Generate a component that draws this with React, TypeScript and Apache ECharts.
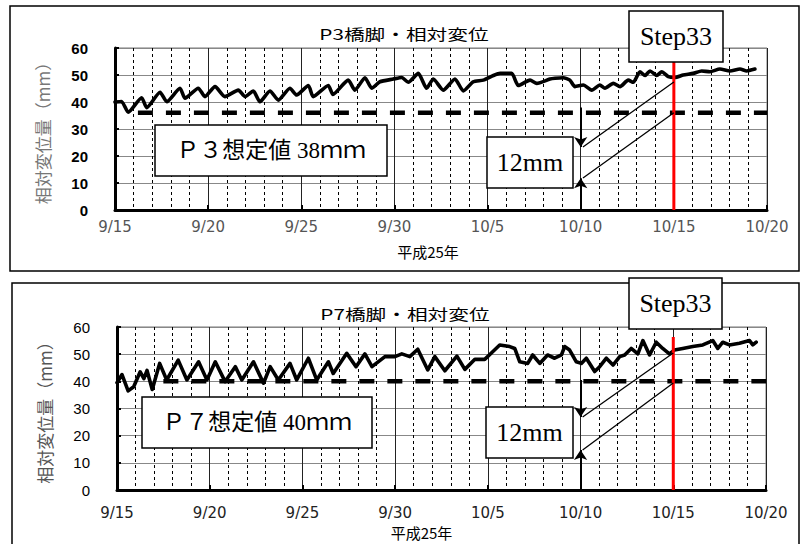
import React, { useEffect, useRef } from 'react';
import * as echarts from 'echarts';

// ---- data ----
const xTickLabels = ['9/15', '9/20', '9/25', '9/30', '10/5', '10/10', '10/15', '10/20'];

// days after 9/15 and relative displacement (mm)
const p3Days = [0.0, 0.35, 0.71, 1.43, 1.70, 2.42, 2.78, 3.49, 3.76, 4.47, 4.83, 5.37, 5.90, 6.62, 6.98, 7.42, 7.78, 8.32, 8.77, 9.39, 9.75, 10.38, 10.64, 11.45, 11.70, 12.52, 12.88, 13.42, 13.78, 14.22, 14.94, 15.39, 15.74, 16.28, 16.73, 17.09, 17.62, 18.25, 18.70, 19.23, 19.77, 20.31, 20.67, 21.29, 21.65, 22.28, 22.64, 23.35, 23.62, 24.06, 24.42, 24.69, 25.14, 25.59, 26.03, 26.30, 26.75, 27.11, 27.55, 27.82, 28.18, 28.45, 28.72, 29.08, 29.35, 29.70, 30.06, 30.50, 31.04, 31.49, 31.94, 32.47, 33.01, 33.55, 33.91, 34.35];
const p3Values = [40.0, 40.2, 36.2, 41.6, 37.9, 43.6, 40.1, 45.1, 41.4, 45.1, 42.0, 45.7, 42.0, 44.4, 42.0, 44.1, 40.1, 44.1, 40.7, 45.1, 42.6, 46.1, 42.0, 46.1, 42.8, 48.1, 44.4, 49.0, 45.1, 47.5, 48.5, 49.1, 47.3, 50.6, 45.1, 48.5, 44.4, 48.5, 44.1, 47.5, 48.1, 49.8, 50.6, 50.6, 46.1, 48.1, 46.9, 48.5, 48.8, 49.0, 48.1, 45.7, 46.3, 44.4, 46.3, 45.1, 46.9, 45.7, 48.1, 47.3, 51.2, 49.8, 51.5, 49.8, 51.2, 49.4, 49.1, 50.0, 50.6, 51.5, 51.2, 52.2, 51.5, 52.2, 51.5, 52.2];

const p7Days = [0.0, 0.27, 0.6, 0.9, 1.25, 1.45, 1.62, 1.9, 2.3, 2.68, 3.3, 3.77, 4.4, 4.85, 5.3, 5.83, 6.38, 6.73, 7.36, 7.9, 8.26, 8.7, 9.33, 9.69, 10.32, 10.77, 11.4, 11.66, 12.39, 12.89, 13.37, 13.75, 14.45, 14.99, 15.36, 15.79, 16.22, 16.76, 17.14, 17.68, 18.33, 18.76, 19.30, 19.83, 20.26, 20.64, 21.18, 21.45, 21.72, 22.15, 22.42, 22.80, 23.22, 23.60, 23.97, 24.14, 24.41, 24.77, 25.04, 25.31, 25.76, 26.03, 26.39, 26.75, 27.11, 27.38, 27.73, 28.09, 28.36, 28.72, 29.08, 29.43, 29.79, 30.06, 30.51, 31.05, 31.59, 32.13, 32.40, 32.67, 33.03, 33.57, 34.11, 34.29, 34.47];
const p7Values = [39.5, 42.5, 36.5, 38.0, 43.5, 41.0, 44.0, 37.0, 46.6, 40.5, 47.8, 40.5, 47.2, 40.5, 47.2, 39.9, 45.4, 40.5, 47.2, 39.3, 45.4, 40.5, 46.6, 40.5, 48.5, 40.5, 47.2, 42.9, 50.3, 45.4, 50.1, 45.4, 49.1, 49.1, 50.1, 49.1, 51.8, 44.2, 49.1, 43.9, 49.3, 44.4, 48.1, 48.1, 50.9, 53.4, 52.8, 52.1, 47.2, 46.6, 49.7, 46.6, 49.7, 48.5, 49.7, 52.8, 51.5, 47.2, 46.6, 48.5, 43.6, 45.4, 48.5, 46.0, 49.1, 49.7, 52.1, 50.1, 55.0, 49.7, 54.4, 52.1, 50.1, 51.5, 52.1, 52.8, 53.4, 55.0, 52.1, 54.4, 53.4, 54.0, 55.0, 53.4, 54.4];

// reference (design) level lines: [startDay, endDay, value]
const p3Design = [1.23, 35, 36];
const p7Design = [2.5, 35, 40];
const stepDay = 30; // 10/15 = Step33
const p3StepTop = 60;
const p7StepTop = 56.3;

// annotation geometry in data units: [x1, y1, x2, y2]
const p3Arrows = [[25, 38, 25, 23.3], [25, 0, 25, 11.8]];
const p3Diag = [[30, 47.4, 25.12, 23.3], [30, 36, 25.12, 11.85]];
const p7Arrows = [[25, 40.5, 25, 26.9], [25, 0, 25, 14.7]];
const p7Diag = [[30, 50.4, 25.11, 26.9], [30, 39.4, 25.11, 14.7]];

const yAxisName = '相対変位量（mm）';
const xAxisName = '平成25年';

function zip(a: number[], b: number[]) {
  return a.map((v, i) => [v, b[i]]);
}

function xAxisCfg(gi: number, labelColor: string, margin: number, padRight: number, nameGap: number) {
  return {
    type: 'value', gridIndex: gi, min: 0, max: 35, interval: 5,
    name: xAxisName, nameLocation: 'middle', nameGap,
    nameTextStyle: { fontSize: 15, color: '#000', fontFamily: '"Noto Sans CJK JP"', padding: [0, padRight, 0, 0] },
    axisLine: { show: true, onZero: false, lineStyle: { color: '#000', width: 3 } },
    axisTick: { show: true, inside: true, length: 5, lineStyle: { color: '#000', width: 2 } },
    axisLabel: {
      margin, color: labelColor, fontSize: 15, fontFamily: '"DejaVu Sans"',
      formatter: (v: number) => xTickLabels[Math.round(v / 5)] ?? '',
    },
    splitLine: { show: true, lineStyle: { color: '#222', width: 1 } },
    minorTick: { show: false, splitNumber: 5 },
    minorSplitLine: { show: true, lineStyle: { color: '#000', width: 1, type: [3, 3] } },
  };
}

function yAxisCfg(gi: number, labelWeight: string, nameColor: string) {
  return {
    type: 'value', gridIndex: gi, min: 0, max: 60, interval: 10,
    name: yAxisName, nameLocation: 'middle', nameGap: 64, nameRotate: 90,
    nameTextStyle: { fontSize: 17, color: nameColor, fontFamily: '"Noto Sans CJK JP"' },
    axisLine: { show: true, onZero: false, lineStyle: { color: '#000', width: 3 } },
    axisTick: { show: true, inside: true, length: 4, lineStyle: { color: '#000', width: 2 } },
    axisLabel: { margin: 27, color: '#000', fontSize: 15, fontWeight: labelWeight, fontFamily: '"Liberation Sans"' },
    splitLine: { show: true, lineStyle: { color: '#888', width: 1 } },
  };
}

function chartSeries(gi: number, days: number[], vals: number[], design: number[], stepTop: number,
  arrows: number[][], diag: number[][], smooth: number | boolean) {
  const ax = { xAxisIndex: gi, yAxisIndex: gi };
  return [
    {
      type: 'line', ...ax, silent: true, symbol: 'none', z: 3,
      data: [[design[0], design[2]], [design[1], design[2]]],
      lineStyle: { color: '#000', width: 4.5, type: [15, 13] },
    },
    {
      type: 'line', ...ax, symbol: 'none', smooth, z: 4,
      data: zip(days, vals),
      lineStyle: { color: '#000', width: 3.6, join: 'round', cap: 'round' },
    },
    {
      type: 'line', ...ax, silent: true, symbol: 'none', z: 5,
      data: [[stepDay, 0], [stepDay, stepTop]],
      lineStyle: { color: '#ff0000', width: 3 },
    },
    {
      type: 'lines', coordinateSystem: 'cartesian2d', ...ax, silent: true, z: 6,
      symbol: ['none', 'arrow'], symbolSize: 10,
      lineStyle: { color: '#000', width: 2, opacity: 1, curveness: 0 },
      data: arrows.map((a) => ({ coords: [[a[0], a[1]], [a[2], a[3]]] })),
    },
    {
      type: 'lines', coordinateSystem: 'cartesian2d', ...ax, silent: true, z: 6,
      symbol: ['none', 'none'],
      lineStyle: { color: '#000', width: 1.3, opacity: 1, curveness: 0 },
      data: diag.map((a) => ({ coords: [[a[0], a[1]], [a[2], a[3]]] })),
    },
  ];
}

function box(x: number, y: number, w: number, h: number, text: string, size: number) {
  return [
    { type: 'rect', z: 100, shape: { x, y, width: w, height: h }, style: { fill: '#fff', stroke: '#000', lineWidth: 1.5 } },
    {
      type: 'text', z: 101, x: x + w / 2, y: y + h / 2,
      style: {
        text, fontSize: size, fontFamily: '"Liberation Serif", "DejaVu Serif", "Noto Sans CJK JP"', fontWeight: 'normal',
        fill: '#000', align: 'center', verticalAlign: 'middle', textAlign: 'center', textVerticalAlign: 'middle',
      },
    },
  ];
}

function title(x: number, y: number, text: string) {
  return {
    type: 'text', z: 101, x, y, scaleX: 1.38,
    style: {
      text, fontSize: 15, fontFamily: '"Noto Sans CJK JP"', fill: '#000',
      align: 'center', verticalAlign: 'middle', textAlign: 'center', textVerticalAlign: 'middle',
    },
  };
}

const option = {
  animation: false,
  backgroundColor: '#fff',
  grid: [
    { left: 115, top: 48, width: 652, height: 162, show: true, borderColor: '#777', borderWidth: 1, outerBoundsMode: 'none' },
    { left: 117, top: 327, width: 649, height: 163, show: true, borderColor: '#777', borderWidth: 1, outerBoundsMode: 'none' },
  ],
  xAxis: [xAxisCfg(0, '#555', 9, 26, 34), xAxisCfg(1, '#222', 15, 40, 35)],
  yAxis: [yAxisCfg(0, 'bold', '#777'), yAxisCfg(1, 'normal', '#555')],
  series: [
    ...chartSeries(0, p3Days, p3Values, p3Design, p3StepTop, p3Arrows, p3Diag, 0.2),
    ...chartSeries(1, p7Days, p7Values, p7Design, p7StepTop, p7Arrows, p7Diag, false),
  ],
  graphic: [
    { type: 'rect', z: 1, shape: { x: 10, y: 6, width: 789, height: 265 }, style: { fill: 'none', stroke: '#000', lineWidth: 1.5 } },
    { type: 'rect', z: 1, shape: { x: 12, y: 283, width: 787, height: 300 }, style: { fill: 'none', stroke: '#000', lineWidth: 1.5 } },
    title(404, 33, 'P3橋脚・相対変位'),
    title(405, 313, 'P7橋脚・相対変位'),
    ...box(155, 125, 232, 51, 'Ｐ３想定値 38ｍｍ', 23),
    ...box(487, 137, 86, 51, '12mm', 26),
    ...box(629, 11, 94, 51, 'Step33', 26),
    ...box(142, 397, 230, 51, 'Ｐ７想定値 40ｍｍ', 23),
    ...box(486, 407, 87, 51, '12mm', 26),
    ...box(629, 278, 93, 51, 'Step33', 26),
  ],
};

export default function App() {
  const ref = useRef<HTMLDivElement>(null);
  useEffect(() => {
    const chart = echarts.init(ref.current!, null, { renderer: 'svg' });
    chart.setOption(option as any);
    return () => chart.dispose();
  }, []);
  return (
    <div
      ref={ref}
      style={{ position: 'absolute', left: 0, top: 0, width: 803, height: 544, background: '#fff' }}
    />
  );
}
